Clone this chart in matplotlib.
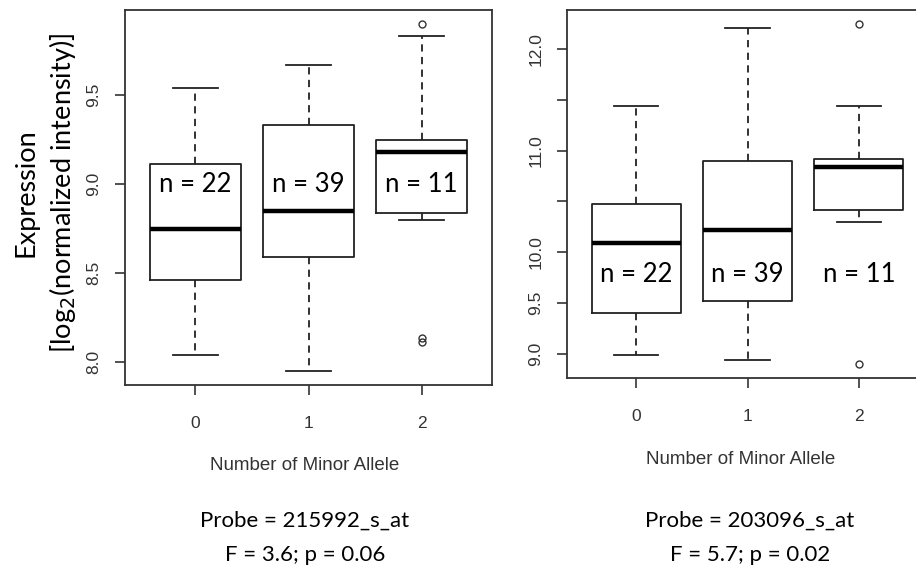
import numpy as np
import matplotlib.pyplot as plt

# ---- data (box stats per genotype group) ----
groups = ['0', '1', '2']
n_counts = [22, 39, 11]

# Probe 215992_s_at
left_whislo = [8.04, 7.95, 8.80]
left_q1     = [8.46, 8.59, 8.84]
left_med    = [8.75, 8.85, 9.18]
left_q3     = [9.11, 9.33, 9.245]
left_whishi = [9.54, 9.67, 9.83]
left_fliers = [[], [], [9.90, 8.135, 8.115]]
left_yticks = [8.0, 8.5, 9.0, 9.5]
left_yticklabels = ['8.0', '8.5', '9.0', '9.5']

# Probe 203096_s_at
right_whislo = [8.99, 8.94, 10.30]
right_q1     = [9.40, 9.52, 10.42]
right_med    = [10.09, 10.22, 10.84]
right_q3     = [10.475, 10.90, 10.92]
right_whishi = [11.44, 12.21, 11.44]
right_fliers = [[], [], [12.245, 8.90]]
right_yticks = [9.0, 9.5, 10.0, 10.5, 11.0, 11.5, 12.0]
right_yticklabels = ['9.0', '9.5', '10.0', '', '11.0', '', '12.0']

left_caption = ['Probe = 215992_s_at', 'F = 3.6; p = 0.06']
right_caption = ['Probe = 203096_s_at', 'F = 5.7; p = 0.02']


def make_stats(lo, q1, med, q3, hi, fl):
    stats = []
    for i in range(len(lo)):
        stats.append(dict(whislo=lo[i], q1=q1[i], med=med[i], q3=q3[i],
                          whishi=hi[i], fliers=fl[i]))
    return stats


def draw_panel(ax, stats, ylim, yticks, yticklabels, n_y):
    pos = np.arange(1, len(stats) + 1)
    ax.bxp(stats, positions=pos, widths=0.8, capwidths=0.4, showfliers=True,
           boxprops=dict(color='#222222', linewidth=1.3),
           medianprops=dict(color='black', linewidth=3.2),
           whiskerprops=dict(color='#222222', linewidth=1.3, linestyle=(0, (4, 3))),
           capprops=dict(color='#222222', linewidth=1.3),
           flierprops=dict(marker='o', markersize=5, markerfacecolor='none',
                           markeredgecolor='#333333', markeredgewidth=1.0))
    ax.set_xlim(0.38, 3.62)
    ax.set_ylim(*ylim)
    ax.set_xticks(pos)
    ax.set_xticklabels(groups)
    ax.set_yticks(yticks)
    ax.set_yticklabels(yticklabels, rotation=90, va='center')
    ax.tick_params(axis='both', length=7, width=1.2, color='#333333',
                   labelsize=12.5, labelcolor='#333333', direction='out')
    ax.tick_params(axis='x', pad=15)
    ax.tick_params(axis='y', pad=10)
    for lab in ax.get_xticklabels() + ax.get_yticklabels():
        lab.set_fontfamily('Liberation Sans')
    for sp in ax.spines.values():
        sp.set_linewidth(1.3)
        sp.set_color('#333333')
    for p, n in zip(pos, n_counts):
        ax.text(p, n_y, 'n = %d' % n, ha='center', va='center',
                fontsize=18.5, family='Lato', color='black')


fig = plt.figure(figsize=(9.16, 5.69), dpi=100)

axL = fig.add_axes([125 / 916, 1 - 385 / 569, 367 / 916, 375 / 569])
draw_panel(axL, make_stats(left_whislo, left_q1, left_med, left_q3, left_whishi, left_fliers),
           (7.871, 9.978), left_yticks, left_yticklabels, 9.0)

axR = fig.add_axes([567 / 916, 1 - 378 / 569, 361 / 916, 368 / 569])
draw_panel(axR, make_stats(right_whislo, right_q1, right_med, right_q3, right_whishi, right_fliers),
           (8.764, 12.383), right_yticks, right_yticklabels, 9.78)
axR.spines['right'].set_visible(False)

# axis labels
fig.text(26 / 916, 1 - 193 / 569, 'Expression', rotation=90, ha='center', va='center',
         fontsize=19.5, family='Lato')
fig.text(63 / 916, 1 - 193 / 569, '[log$_2$(normalized intensity)]', rotation=90,
         ha='center', va='center', fontsize=19.5, family='Lato')
fig.text(305 / 916, 1 - 466 / 569, 'Number of Minor Allele', ha='center', va='center',
         fontsize=13.5, family='Liberation Sans', color='#333333')
fig.text(741 / 916, 1 - 459 / 569, 'Number of Minor Allele', ha='center', va='center',
         fontsize=13.5, family='Liberation Sans', color='#333333')

# captions
for i, txt in enumerate(left_caption):
    fig.text(305 / 916, 1 - (521 + 34 * i) / 569, txt, ha='center', va='center',
             fontsize=16, family='Lato')
for i, txt in enumerate(right_caption):
    fig.text(750 / 916, 1 - (521 + 34 * i) / 569, txt, ha='center', va='center',
             fontsize=16, family='Lato')

fig.savefig('out.png', dpi=100)
